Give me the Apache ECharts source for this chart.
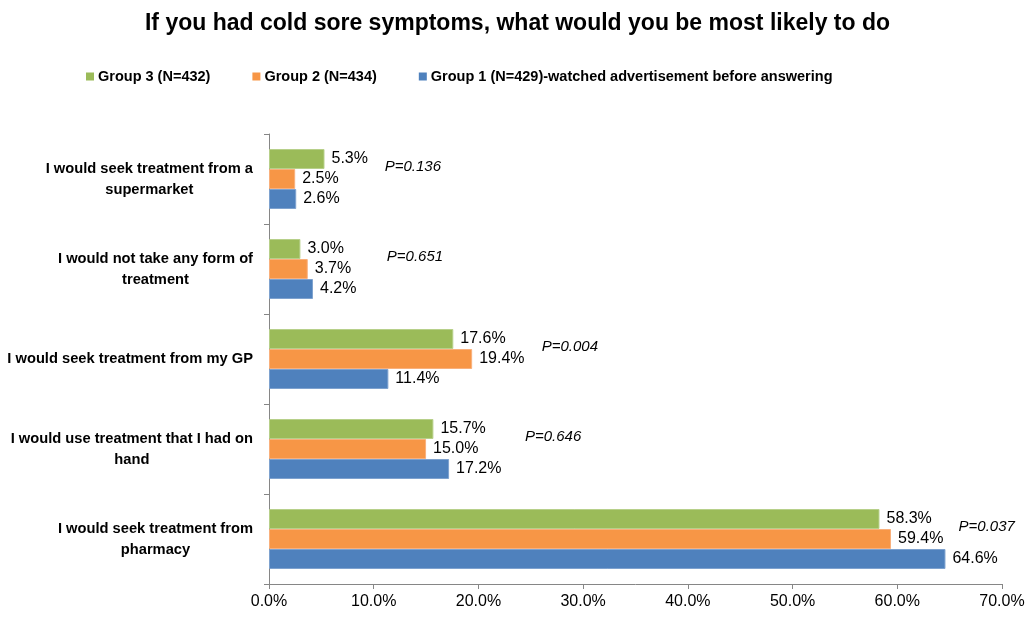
<!DOCTYPE html>
<html>
<head>
<meta charset="utf-8">
<script src="https://cdn.jsdelivr.net/npm/echarts@6/dist/echarts.min.js"></script>
<style>
html,body{margin:0;padding:0;background:#fff;}
#chart{width:1035px;height:620px;}
</style>
</head>
<body>
<div id="chart"></div>
<script>
// Categories listed bottom -> top (ECharts category y-axis grows upward)
const categories = [
  "I would seek treatment from\npharmacy",
  "I would use treatment that I had on\nhand",
  "I would seek treatment from my GP",
  "I would not take any form of\ntreatment",
  "I would seek treatment from a\nsupermarket"
];
const group1 = [64.6, 17.2, 11.4, 4.2, 2.6];
const group2 = [59.4, 15.0, 19.4, 3.7, 2.5];
const group3 = [58.3, 15.7, 17.6, 3.0, 5.3];
const seriesNames = [
  "Group 1 (N=429)-watched advertisement before answering",
  "Group 2 (N=434)",
  "Group 3 (N=432)"
];
const pValues = ["P=0.037", "P=0.646", "P=0.004", "P=0.651", "P=0.136"];
const pLabelAt = [65.8, 24.4, 26.0, 11.2, 11.0];

const FONT = "Liberation Sans, Arial, sans-serif";
const colors = ["#4F81BD", "#F79646", "#9BBB59"];
const borders = ["#7ea2cf", "#f9b07c", "#b7d08a"];

function barSeries(i, data) {
  return {
    name: seriesNames[i],
    type: "bar",
    data: data,
    barWidth: 20,
    barGap: "0%",
    itemStyle: { color: colors[i], borderColor: borders[i], borderWidth: 1 },
    label: {
      show: true,
      position: "right",
      distance: 7,
      color: "#000",
      fontFamily: FONT,
      fontSize: 16,
      formatter: p => p.value.toFixed(1) + "%"
    }
  };
}

const chart = echarts.init(document.getElementById("chart"), null, { renderer: "canvas" });
chart.setOption({
  animation: false,
  backgroundColor: "#fff",
  title: {
    text: "If you had cold sore symptoms, what would you be most likely to do",
    left: "center",
    top: 7,
    textStyle: { fontFamily: "Liberation Sans Narrow, Arial Narrow, " + FONT, fontWeight: "bold", fontSize: 23, color: "#000" }
  },
  legend: {
    data: [seriesNames[2], seriesNames[1], seriesNames[0]],
    left: 81,
    top: 64,
    icon: "rect",
    itemWidth: 8,
    itemHeight: 8,
    itemGap: 42,
    itemStyle: { borderWidth: 0 },
    textStyle: { fontFamily: FONT, fontWeight: "bold", fontSize: 14.5, color: "#000", padding: [0, 0, 0, -1] }
  },
  grid: { left: 269, right: 33, top: 134, bottom: 36, containLabel: false },
  xAxis: {
    type: "value",
    min: 0,
    max: 70,
    interval: 10,
    splitLine: { show: false },
    axisLine: { show: true, lineStyle: { color: "#868686" } },
    axisTick: { show: true, length: 5, lineStyle: { color: "#868686" } },
    axisLabel: {
      color: "#000",
      fontFamily: FONT,
      fontSize: 16,
      margin: 10,
      formatter: v => v.toFixed(1) + "%"
    }
  },
  yAxis: {
    type: "category",
    data: categories,
    axisLine: { show: true, lineStyle: { color: "#868686" } },
    axisTick: { show: true, length: 5, lineStyle: { color: "#868686" } },
    axisLabel: {
      margin: 16,
      formatter: v => v.split("\n").map(l => "{c|" + l + "}").join("\n"),
      rich: {
        c: { align: "center", fontFamily: FONT, fontWeight: "bold", fontSize: 14.7, color: "#000", lineHeight: 21 }
      }
    }
  },
  series: [
    barSeries(2, group3),
    barSeries(1, group2),
    barSeries(0, group1),
    {
      name: "pvalues",
      type: "scatter",
      symbolSize: 1,
      itemStyle: { color: "#ffffff", opacity: 1 },
      silent: true,
      z: 5,
      data: pLabelAt.map((x, i) => [x, i]),
      label: {
        show: true,
        position: "right",
        distance: 0,
        offset: [0, -12],
        color: "#000",
        opacity: 1,
        fontFamily: FONT,
        fontStyle: "italic",
        fontSize: 15,
        formatter: p => pValues[p.dataIndex]
      }
    }
  ]
});
</script>
</body>
</html>
